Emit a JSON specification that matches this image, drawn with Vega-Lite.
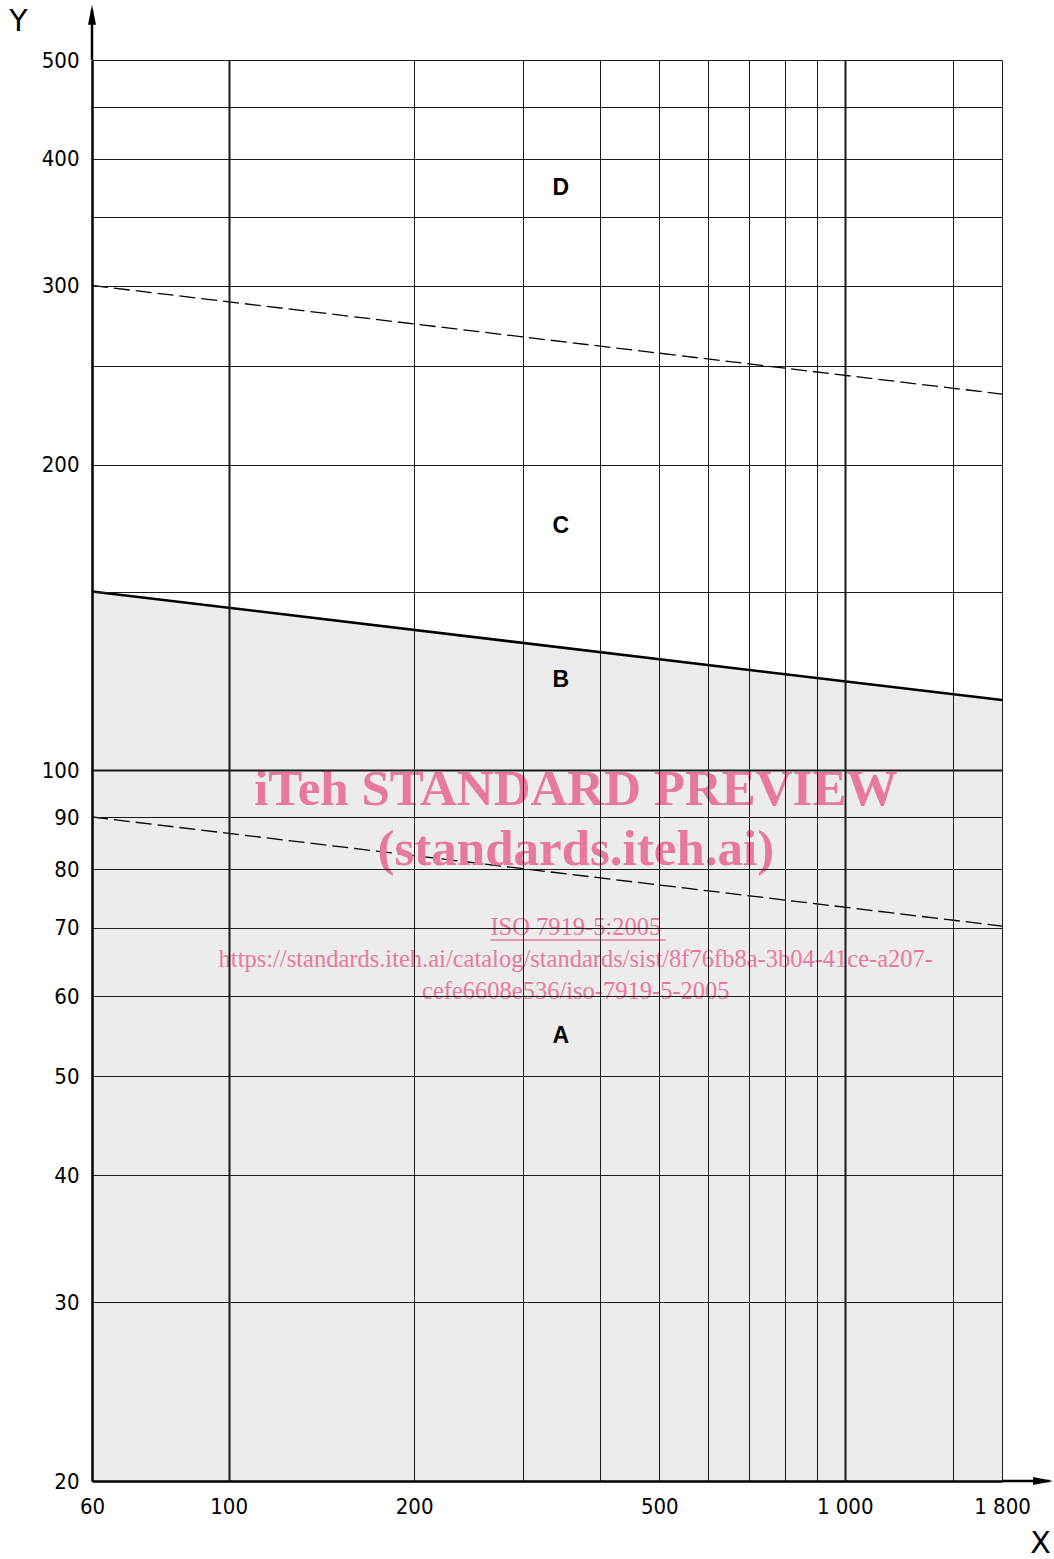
{
  "$schema": "https://vega.github.io/schema/vega-lite/v6.json",
  "width": 910,
  "height": 1421,
  "autosize": "none",
  "padding": {"left": 92, "top": 60, "right": 52, "bottom": 78},
  "background": "white",
  "config": {"view": {"stroke": null}},
  "datasets": {
    "lines": [
      {"series": "limit", "x": 60, "y": 150},
      {"series": "limit", "x": 1800, "y": 117.3},
      {"series": "upper", "x": 60, "y": 300},
      {"series": "upper", "x": 1800, "y": 234.6},
      {"series": "lower", "x": 60, "y": 90},
      {"series": "lower", "x": 1800, "y": 70.3}
    ],
    "zones": [
      {"label": "D", "x": 346, "y": 374},
      {"label": "C", "x": 346, "y": 174},
      {"label": "B", "x": 346, "y": 122.7},
      {"label": "A", "x": 346, "y": 54.8}
    ],
    "watermarkBig": [
      {"text": "iTeh STANDARD PREVIEW", "x": 366, "y": 95.7},
      {"text": "(standards.iteh.ai)", "x": 366, "y": 83.5}
    ],
    "watermarkSmall": [
      {"text": "ISO 7919-5:2005", "x": 366, "y": 70.0},
      {"text": "https://standards.iteh.ai/catalog/standards/sist/8f76fb8a-3b04-41ce-a207-", "x": 366, "y": 65.1},
      {"text": "cefe6608e536/iso-7919-5-2005", "x": 366, "y": 60.5}
    ],
    "underline": [{"x": 266, "x2": 512, "y": 68.1}],
    "yExt": [{"x": 60, "y": 500, "y2": 560}],
    "xExt": [{"x": 1800, "x2": 2150, "y": 20}],
    "arrowUp": [{"x": 60, "y": 554}],
    "arrowRight": [{"x": 2099, "y": 20}]
  },
  "layer": [
    {
      "data": {"name": "lines"},
      "transform": [{"filter": "datum.series == 'limit'"}],
      "mark": {"type": "area", "fill": "#ececec", "stroke": null},
      "encoding": {
        "x": {
          "field": "x", "type": "quantitative",
          "scale": {"type": "log", "domain": [60, 1800], "nice": false, "zero": false},
          "axis": {
            "values": [60, 100, 200, 300, 400, 500, 600, 700, 800, 900, 1000, 1500, 1800],
            "labelExpr": "indexof([60,100,200,500,1000,1800], datum.value) >= 0 ? replace(format(datum.value, ','), ',', ' ') : ''",
            "grid": true,
            "gridColor": "#1a1a1a",
            "gridWidth": {"condition": {"test": "datum.value == 100 || datum.value == 1000", "value": 2}, "value": 1},
            "ticks": false,
            "domain": true,
            "domainColor": "black",
            "domainWidth": 2.5,
            "labelFont": "DejaVu Sans Condensed",
            "labelFontSize": 22,
            "labelColor": "black",
            "labelPadding": 15,
            "labelOverlap": false,
            "labelBound": false,
            "labelFlush": false,
            "title": "X",
            "titleFont": "DejaVu Sans",
            "titleFontWeight": "normal",
            "titleFontSize": 30,
            "titleColor": "black",
            "titleAngle": 0,
            "titleAlign": "center",
            "titleBaseline": "middle",
            "titleX": 948,
            "titleY": 62,
            "zindex": 1
          }
        },
        "y": {
          "field": "y", "type": "quantitative",
          "scale": {"type": "log", "domain": [20, 500], "nice": false, "zero": false},
          "axis": {
            "values": [20, 30, 40, 50, 60, 70, 80, 90, 100, 150, 200, 250, 300, 350, 400, 450, 500],
            "labelExpr": "indexof([150,250,350,450], datum.value) >= 0 ? '' : format(datum.value, 'd')",
            "grid": true,
            "gridColor": "#1a1a1a",
            "gridWidth": {"condition": {"test": "datum.value == 100", "value": 2}, "value": 1},
            "ticks": false,
            "domain": true,
            "domainColor": "black",
            "domainWidth": 2.5,
            "labelFont": "DejaVu Sans Condensed",
            "labelFontSize": 22,
            "labelColor": "black",
            "labelPadding": 13,
            "labelOverlap": false,
            "labelBound": false,
            "labelFlush": false,
            "title": "Y",
            "titleFont": "DejaVu Sans",
            "titleFontWeight": "normal",
            "titleFontSize": 30,
            "titleColor": "black",
            "titleAngle": 0,
            "titleAlign": "center",
            "titleBaseline": "middle",
            "titleX": -74,
            "titleY": -39,
            "zindex": 1
          }
        },
        "y2": {"datum": 20}
      }
    },
    {
      "data": {"name": "lines"},
      "transform": [{"filter": "datum.series == 'limit'"}],
      "mark": {"type": "line", "color": "black", "strokeWidth": 2.5},
      "encoding": {
        "x": {"field": "x", "type": "quantitative"},
        "y": {"field": "y", "type": "quantitative"}
      }
    },
    {
      "data": {"name": "lines"},
      "transform": [{"filter": "datum.series != 'limit'"}],
      "mark": {"type": "line", "color": "black", "strokeWidth": 1.3, "strokeDash": [16, 6]},
      "encoding": {
        "x": {"field": "x", "type": "quantitative"},
        "y": {"field": "y", "type": "quantitative"},
        "detail": {"field": "series"}
      }
    },
    {
      "data": {"name": "zones"},
      "mark": {"type": "text", "font": "Liberation Sans", "fontWeight": "bold", "fontSize": 23, "color": "black", "align": "center", "baseline": "middle"},
      "encoding": {
        "x": {"field": "x", "type": "quantitative"},
        "y": {"field": "y", "type": "quantitative"},
        "text": {"field": "label"}
      }
    },
    {
      "data": {"name": "watermarkBig"},
      "mark": {"type": "text", "font": "Liberation Serif", "fontWeight": "bold", "fontSize": 51, "color": "#e8799e", "align": "center", "baseline": "middle"},
      "encoding": {
        "x": {"field": "x", "type": "quantitative"},
        "y": {"field": "y", "type": "quantitative"},
        "text": {"field": "text"}
      }
    },
    {
      "data": {"name": "watermarkSmall"},
      "mark": {"type": "text", "font": "Liberation Serif", "fontSize": 24.5, "color": "#e8799e", "align": "center", "baseline": "middle"},
      "encoding": {
        "x": {"field": "x", "type": "quantitative"},
        "y": {"field": "y", "type": "quantitative"},
        "text": {"field": "text"}
      }
    },
    {
      "data": {"name": "underline"},
      "mark": {"type": "rule", "color": "#e8799e", "strokeWidth": 1.5},
      "encoding": {
        "x": {"field": "x", "type": "quantitative"},
        "x2": {"field": "x2"},
        "y": {"field": "y", "type": "quantitative"}
      }
    },
    {
      "data": {"name": "yExt"},
      "mark": {"type": "rule", "color": "black", "strokeWidth": 2.5},
      "encoding": {
        "x": {"field": "x", "type": "quantitative"},
        "y": {"field": "y", "type": "quantitative"},
        "y2": {"field": "y2"}
      }
    },
    {
      "data": {"name": "xExt"},
      "mark": {"type": "rule", "color": "black", "strokeWidth": 2.5},
      "encoding": {
        "x": {"field": "x", "type": "quantitative"},
        "x2": {"field": "x2"},
        "y": {"field": "y", "type": "quantitative"}
      }
    },
    {
      "data": {"name": "arrowUp"},
      "mark": {"type": "point", "shape": "M0,-1 L0.4,1 L-0.4,1 Z", "size": 400, "filled": true, "color": "black", "opacity": 1},
      "encoding": {
        "x": {"field": "x", "type": "quantitative"},
        "y": {"field": "y", "type": "quantitative"}
      }
    },
    {
      "data": {"name": "arrowRight"},
      "mark": {"type": "point", "shape": "M1,0 L-1,0.4 L-1,-0.4 Z", "size": 400, "filled": true, "color": "black", "opacity": 1},
      "encoding": {
        "x": {"field": "x", "type": "quantitative"},
        "y": {"field": "y", "type": "quantitative"}
      }
    }
  ]
}
